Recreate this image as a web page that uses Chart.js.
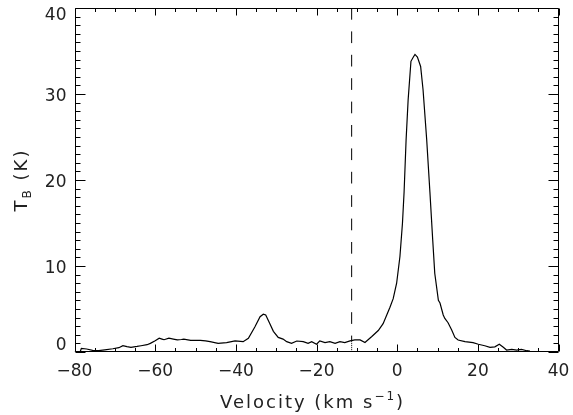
<!DOCTYPE html>
<html><head><meta charset="utf-8">
<script src="https://cdn.jsdelivr.net/npm/chart.js@4.4.0/dist/chart.umd.min.js"></script>
<style>html,body{margin:0;padding:0;background:#fff}#wrap{width:573px;height:415px}</style>
</head><body><div id="wrap"><canvas id="c" width="573" height="415"></canvas></div>
<script>
// ---- data ----
const velocity = [
 -80, -78.6, -78.3, -77, -75.5, -74, -72.5, -70.5, -69, -68, -67, -66, -64.5, -63.5, -62, -61.2,
 -60, -59, -58.3, -57.8, -56.6, -55.5, -54.5, -53.5, -52.9, -51.2, -50, -48.8, -47.5, -46.4, -44.4,
 -42.3, -40.2, -38.2, -36.9, -35.3, -34, -33.2, -32.6, -31.6, -30.7, -29.5, -28.3, -27.4, -26.2,
 -24.9, -23.3, -22.1, -21.2, -20, -19.2, -17.9, -16.7, -15.4, -14.2, -13, -11.7, -10.5, -9.2, -8,
 -6.3, -4.7, -3.5, -2.6, -1.8, -1, -0.15, 0.67, 1.3, 1.7, 2.2, 2.7, 3.4, 4.0, 4.4, 5.0, 5.8, 6.4,
 7.3, 8.1, 8.8, 9.3, 10.2, 10.6, 11.4, 11.8, 12.6, 13.5, 14.3, 15.1, 16.8, 18.8, 20.1, 21.7, 23,
 24.2, 25.3, 26.3, 27.1, 28.4, 29.6, 30.8, 32.1, 32.9
];
const brightness = [
 0, 0, 0.43, 0.35, 0.2, 0.15, 0.25, 0.38, 0.5, 0.73, 0.62, 0.55, 0.65, 0.73, 0.85, 1.0,
 1.3, 1.6, 1.5, 1.43, 1.6, 1.5, 1.4, 1.45, 1.5, 1.36, 1.35, 1.36, 1.3, 1.2, 1.0,
 1.1, 1.3, 1.2, 1.6, 2.9, 4.1, 4.4, 4.3, 3.3, 2.4, 1.7, 1.5, 1.2, 1.0,
 1.28, 1.2, 1.0, 1.2, 0.9, 1.3, 1.1, 1.2, 1.0, 1.2, 1.1, 1.3, 1.4, 1.4, 1.1,
 1.8, 2.5, 3.3, 4.3, 5.2, 6.2, 8.0, 11.1, 15, 18.6, 24.7, 29.3, 33.8, 34.3, 34.6, 34.3, 33.2, 30.5,
 24.7, 18.6, 13, 9.15, 6.0, 5.7, 4.3, 3.9, 3.4, 2.56, 1.7, 1.4, 1.2, 1.08, 0.9, 0.73, 0.55,
 0.6, 0.9, 0.55, 0.23, 0.3, 0.23, 0.3, 0.15, 0.1
];
const markerVelocity = -11.3;   // vertical reference line
const markerBase = 1.3;         // spectrum level where dashes stop
const markerTop = 40;
const xRange = [-80, 40];
const yRange = [0, 40];
const xTickStep = 20, xMinorStep = 5;
const yTickStep = 10, yMinorStep = 1;
const xTitleMain = 'Velocity (km s', xTitleSup = '−1', xTitleEnd = ')';
const yTitleMain = 'T', yTitleSub = 'B', yTitleEnd = ' (K)';

const FONT = '"DejaVu Sans", sans-serif';
const spectrum = velocity.map((v, i) => ({x: v, y: brightness[i]}));

// IDL-style placement of y tick labels: slightly below the tick, kept inside the axis span
const idlLabels = {
  id: 'idlLabels',
  beforeDraw(chart) {
    const s = chart.scales.y;
    const items = s.getLabelItems();
    items.forEach(it => {
      const t = it.options.translation;
      t[1] = Math.min(Math.max(t[1] + 2.7, s.top + 8), s.bottom - 6.3);
    });
  }
};

const idlFrame = {
  id: 'idlFrame',
  afterDraw(chart) {
    const {ctx, chartArea: a, scales: {x, y}} = chart;
    ctx.save();
    ctx.strokeStyle = '#000';
    ctx.lineWidth = 1;
    const L = Math.round(a.left) + 0.5, R = Math.round(a.right) - 0.5;
    const T = Math.round(a.top) + 0.5, B = Math.round(a.bottom) - 0.5;
    ctx.beginPath();
    ctx.rect(L, T, R - L, B - T);
    for (let v = xRange[0]; v <= xRange[1]; v += xMinorStep) {
      const px = Math.round(x.getPixelForValue(v)) + 0.5;
      const len = (v % xTickStep === 0) ? 7 : 3.5;
      ctx.moveTo(px, B); ctx.lineTo(px, B - len);
      ctx.moveTo(px, T); ctx.lineTo(px, T + len);
    }
    for (let v = yRange[0]; v <= yRange[1]; v += yMinorStep) {
      const py = Math.round(y.getPixelForValue(v)) + 0.5;
      const len = (v % yTickStep === 0) ? 10 : 5;
      ctx.moveTo(L, py); ctx.lineTo(L + len, py);
      ctx.moveTo(R, py); ctx.lineTo(R - len, py);
    }
    ctx.stroke();

    // axis titles
    ctx.fillStyle = '#222';
    ctx.textBaseline = 'alphabetic';
    ctx.textAlign = 'left';
    ctx.letterSpacing = '2px';
    const big = '18px ' + FONT, small = '12px ' + FONT;
    ctx.font = big; const w1 = ctx.measureText(xTitleMain).width;
    const w3 = ctx.measureText(xTitleEnd).width;
    ctx.font = small; const w2 = ctx.measureText(xTitleSup).width;
    const cx = (a.left + a.right) / 2 - 4;
    let sx = cx - (w1 + w2 + w3) / 2;
    const by = 408;
    ctx.font = big; ctx.fillText(xTitleMain, sx, by);
    ctx.font = small; ctx.fillText(xTitleSup, sx + w1, by - 8);
    ctx.font = big; ctx.fillText(xTitleEnd, sx + w1 + w2, by);

    ctx.save();
    ctx.translate(27, (a.top + a.bottom) / 2);
    ctx.rotate(-Math.PI / 2);
    ctx.font = big; const t1 = ctx.measureText(yTitleMain).width;
    const t3 = ctx.measureText(yTitleEnd).width;
    ctx.font = small; const t2 = ctx.measureText(yTitleSub).width;
    let sy = -(t1 + t2 + t3) / 2;
    ctx.font = big; ctx.fillText(yTitleMain, sy, 0);
    ctx.font = small; ctx.fillText(yTitleSub, sy + t1, 4);
    ctx.font = big; ctx.fillText(yTitleEnd, sy + t1 + t2, 0);
    ctx.restore();
    ctx.restore();
  }
};

const fmt = v => (v < 0 ? '−' + Math.abs(v) : String(v));

new Chart(document.getElementById('c'), {
  type: 'line',
  data: {
    datasets: [
      {data: spectrum, borderColor: '#000', borderWidth: 1.2, pointRadius: 0, tension: 0, fill: false},
      {data: [{x: markerVelocity, y: markerTop}, {x: markerVelocity, y: markerBase}],
       borderColor: '#000', borderWidth: 1, borderDash: [11.7, 11.7], pointRadius: 0, fill: false},
      {data: [{x: markerVelocity, y: markerBase}, {x: markerVelocity, y: yRange[0]}],
       borderColor: '#000', borderWidth: 1, borderDash: [1, 1], pointRadius: 0, fill: false}
    ]
  },
  options: {
    responsive: false,
    animation: false,
    devicePixelRatio: 1,
    layout: {padding: {top: 8, right: 14.4, left: 0, bottom: 0}},
    plugins: {legend: {display: false}, tooltip: {enabled: false}},
    scales: {
      x: {
        type: 'linear', min: xRange[0], max: xRange[1],
        grid: {display: false, drawTicks: false, tickLength: 0},
        border: {display: false},
        ticks: {stepSize: xTickStep, padding: 12, color: '#222', callback: fmt,
                font: {family: FONT, size: 17, lineHeight: 0.9}, maxRotation: 0, autoSkip: false},
        afterFit(s) { s.height = 63; s.paddingLeft = 0; s.paddingRight = 0; }
      },
      y: {
        type: 'linear', min: yRange[0], max: yRange[1],
        grid: {display: false, drawTicks: false, tickLength: 0},
        border: {display: false},
        ticks: {stepSize: yTickStep, padding: 8, color: '#222', callback: fmt,
                font: {family: FONT, size: 17, lineHeight: 0.9}},
        afterFit(s) { s.width = 74.5; s.paddingTop = 0; s.paddingBottom = 0; }
      }
    }
  },
  plugins: [idlLabels, idlFrame]
});
</script>
</body></html>
